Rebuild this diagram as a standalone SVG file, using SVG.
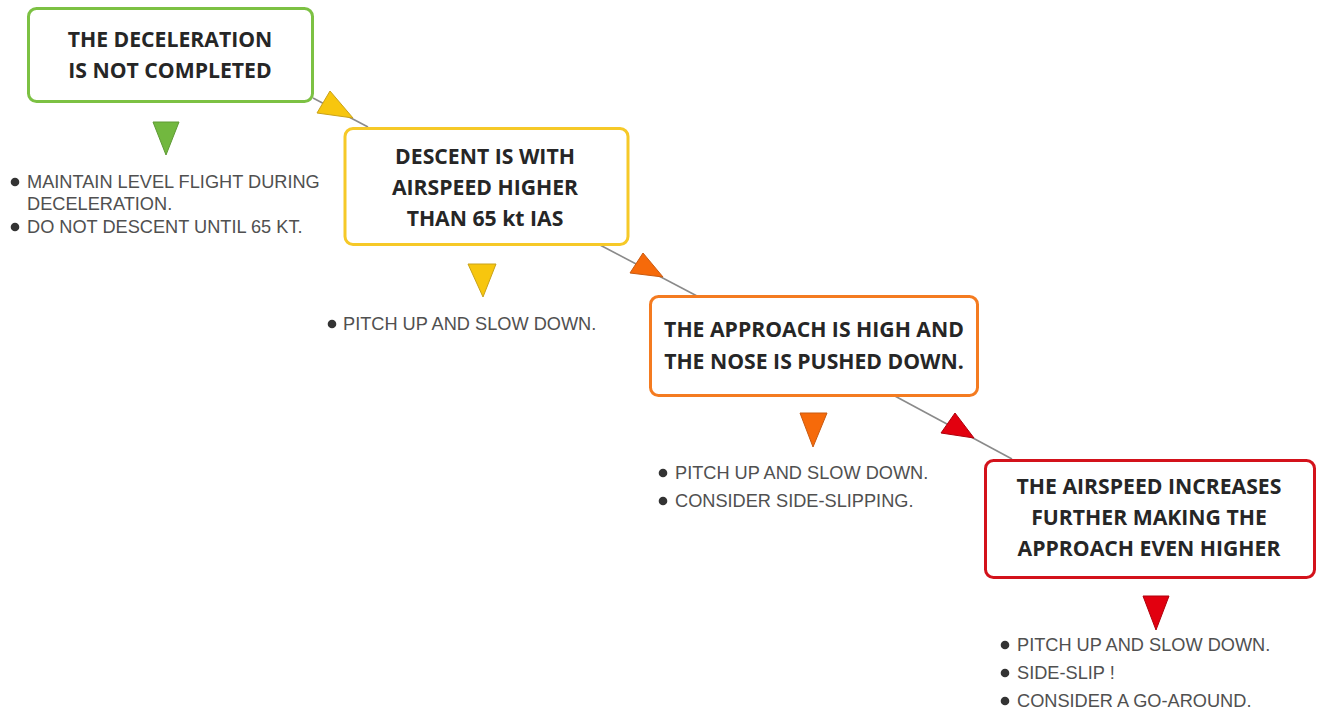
<svg xmlns="http://www.w3.org/2000/svg" width="1318" height="711" viewBox="0 0 1318 711">
  <style>
    .box { fill: #ffffff; stroke-width: 3; }
    .title { font-family: "Open Sans", "Liberation Sans", sans-serif; font-weight: 700; font-size: 21.2px; fill: #262626; text-anchor: middle; }
    .note { font-family: "Liberation Sans", Arial, sans-serif; font-size: 18.2px; fill: #505050; }
    .dot { fill: #333333; }
    .link { stroke: #8a8a8a; stroke-width: 1.6; fill: none; }
    .tri { stroke-width: 1; stroke-linejoin: round; }
    .green { stroke: #7cc143; }
    .yellow { stroke: #f6c928; }
    .orange { stroke: #f47b20; }
    .red { stroke: #d3121b; }
    .g-fill { fill: #72b83f; stroke: #5f9a35; }
    .y-fill { fill: #f7c60e; stroke: #c9a21a; }
    .o-fill { fill: #f66a0a; stroke: #c95a10; }
    .r-fill { fill: #e2000f; stroke: #b0000c; }
  </style>

  <rect width="1318" height="711" fill="#ffffff"/>

  <!-- connectors between the stages -->
  <g id="connectors">
    <line class="link" x1="313" y1="98" x2="368" y2="127"/>
    <polygon class="tri y-fill" points="330,91 317,113 353,118"/>
    <line class="link" x1="600" y1="245" x2="697" y2="296"/>
    <polygon class="tri o-fill" points="643,253 630,273 663,277"/>
    <line class="link" x1="893" y1="395" x2="1012" y2="459"/>
    <polygon class="tri r-fill" points="955,413 941,433 974,438"/>
  </g>

  <!-- stage 1 -->
  <g id="stage1">
    <rect class="box green" x="28.5" y="8.5" width="284" height="93" rx="8"/>
    <text class="title" x="170" y="47">THE DECELERATION</text>
    <text class="title" x="170" y="78">IS NOT COMPLETED</text>
    <polygon class="tri g-fill" points="153,122 179,122 166,155"/>
    <circle class="dot" cx="15" cy="182" r="4.3"/>
    <text class="note" x="27" y="188">MAINTAIN LEVEL FLIGHT DURING</text>
    <text class="note" x="27" y="210">DECELERATION.</text>
    <circle class="dot" cx="15" cy="227" r="4.3"/>
    <text class="note" x="27" y="233">DO NOT DESCENT UNTIL 65 KT.</text>
  </g>

  <!-- stage 2 -->
  <g id="stage2">
    <rect class="box yellow" x="345" y="128.5" width="283" height="116" rx="8"/>
    <text class="title" x="485" y="164">DESCENT IS WITH</text>
    <text class="title" x="485" y="195">AIRSPEED HIGHER</text>
    <text class="title" x="485" y="226">THAN 65 kt IAS</text>
    <polygon class="tri y-fill" points="468,264 496,264 483,297"/>
    <circle class="dot" cx="332" cy="324" r="4.3"/>
    <text class="note" x="343" y="330">PITCH UP AND SLOW DOWN.</text>
  </g>

  <!-- stage 3 -->
  <g id="stage3">
    <rect class="box orange" x="650.5" y="296.5" width="327" height="99" rx="8"/>
    <text class="title" x="814" y="337">THE APPROACH IS HIGH AND</text>
    <text class="title" x="814" y="369">THE NOSE IS PUSHED DOWN.</text>
    <polygon class="tri o-fill" points="800,413 827,413 813,447"/>
    <circle class="dot" cx="663" cy="473" r="4.3"/>
    <text class="note" x="675" y="479">PITCH UP AND SLOW DOWN.</text>
    <circle class="dot" cx="663" cy="501" r="4.3"/>
    <text class="note" x="675" y="507">CONSIDER SIDE-SLIPPING.</text>
  </g>

  <!-- stage 4 -->
  <g id="stage4">
    <rect class="box red" x="985.5" y="460.5" width="329" height="117" rx="8"/>
    <text class="title" x="1149" y="494">THE AIRSPEED INCREASES</text>
    <text class="title" x="1149" y="525">FURTHER MAKING THE</text>
    <text class="title" x="1149" y="556">APPROACH EVEN HIGHER</text>
    <polygon class="tri r-fill" points="1143,596 1169,596 1156,630"/>
    <circle class="dot" cx="1005" cy="645" r="4.3"/>
    <text class="note" x="1017" y="651">PITCH UP AND SLOW DOWN.</text>
    <circle class="dot" cx="1005" cy="673" r="4.3"/>
    <text class="note" x="1017" y="679">SIDE-SLIP !</text>
    <circle class="dot" cx="1005" cy="701" r="4.3"/>
    <text class="note" x="1017" y="707">CONSIDER A GO-AROUND.</text>
  </g>
</svg>
